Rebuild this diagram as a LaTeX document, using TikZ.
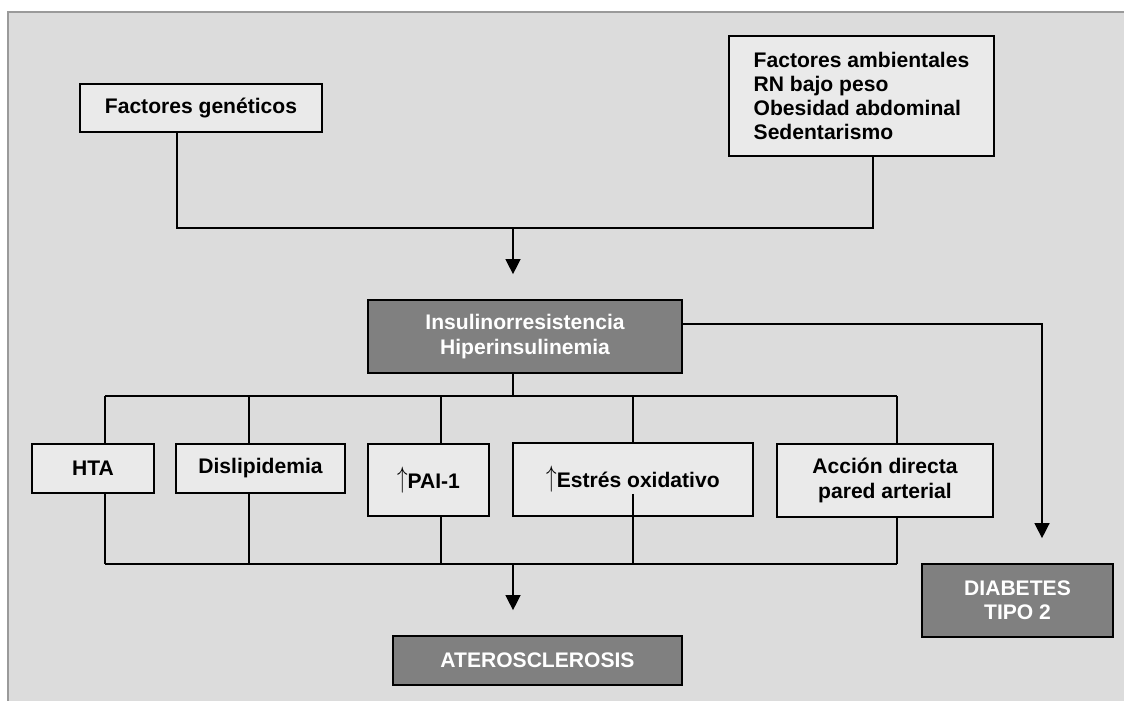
\documentclass[tikz,border=0pt]{standalone}
\usepackage{fontspec}
\setmainfont{Liberation Sans}
\usepackage{xcolor}
\usepackage{graphicx}
\usetikzlibrary{arrows.meta}
\definecolor{fondo}{HTML}{DCDCDC}
\definecolor{marco}{HTML}{9A9A9A}
\definecolor{claro}{HTML}{EAEAEA}
\definecolor{oscuro}{HTML}{808080}
\newcommand\sube{\raisebox{0.5pt}{\scalebox{1}[1.4]{$\uparrow$}}}

\begin{document}
\begin{tikzpicture}[x=0.02cm,y=-0.02cm,
  caja/.style={draw,line width=1pt,fill=claro,align=center,inner sep=0pt,
    font=\bfseries\fontsize{12}{13.8}\selectfont},
  cajaosc/.style={caja,fill=oscuro,text=white},
  linea/.style={line width=0.75pt},
  flecha/.style={linea,-{Triangle[width=8.5pt,length=8.5pt]},shorten >=0.5cm}]
\useasboundingbox (0,0) rectangle (1124,701);
\fill[fondo] (8,12) rectangle (1124,701);
\draw[marco,line width=1.2pt] (1124,12) -- (8,12) -- (8,701);

\node[caja,minimum width=4.84cm,minimum height=0.96cm] (gen) at (201,108) {Factores genéticos};
\node[caja,align=left,minimum width=5.3cm,minimum height=2.4cm] (amb) at (861.5,96)
  {Factores ambientales\\RN bajo peso\\Obesidad abdominal\\Sedentarismo};
\node[cajaosc,minimum width=6.28cm,minimum height=1.46cm] (ins) at (525,336.5)
  {Insulinorresistencia\\Hiperinsulinemia};

\node[caja,minimum width=2.44cm,minimum height=0.98cm] (hta) at (93,468.5) {HTA};
\node[caja,minimum width=3.38cm,minimum height=0.98cm] (dis) at (260.5,468.5) {Dislipidemia};
\node[caja,minimum width=2.42cm,minimum height=1.44cm] (pai) at (428.5,480) {\sube PAI-1};
\node[caja,minimum width=4.8cm,minimum height=1.46cm] (est) at (633,479.5) {\sube Estrés oxidativo};
\node[caja,minimum width=4.32cm,minimum height=1.46cm] (acc) at (885,480.5) {Acción directa\\pared arterial};

\node[cajaosc,minimum width=5.78cm,minimum height=0.98cm] (ate) at (537.5,660.5) {ATEROSCLEROSIS};
\node[cajaosc,minimum width=3.82cm,minimum height=1.46cm] (dia) at (1017.5,600.5) {DIABETES\\TIPO 2};

\coordinate (cg) at (177,228);
\coordinate (ca) at (873,228);
\coordinate (cm) at (513,228);
\draw[linea] (gen.south -| cg) -- (cg) -- (ca) -- (amb.south -| ca);
\draw[flecha] (cm) -- (ins.north -| cm);

\coordinate (cs) at (513,396);
\coordinate (ci) at (513,564);
\draw[linea] (ins.south -| cs) -- (cs);
\foreach \n/\x in {hta/105,dis/249,pai/441,est/633,acc/897}{
  \coordinate (s\n) at (\x,396);
  \coordinate (i\n) at (\x,564);
  \draw[linea] (s\n) -- (s\n |- \n.north);
}
\foreach \n in {hta,dis,pai,acc}
  \draw[linea] (\n.south -| i\n) -- (i\n);
\draw[linea] (hta.south -| iest) -- (iest);
\draw[linea] (shta) -- (sacc);
\draw[linea] (ihta) -- (iacc);
\draw[flecha] (ci) -- (ate.north -| ci);

\coordinate (cd) at (1042,324);
\draw[flecha] (ins.east |- cd) -- (cd) -- (dia.north -| cd);
\end{tikzpicture}
\end{document}
